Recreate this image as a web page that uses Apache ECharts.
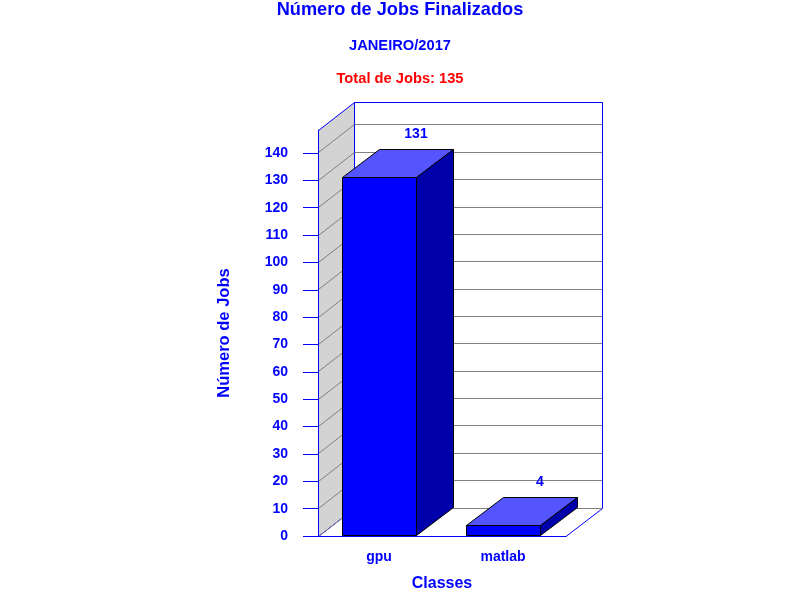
<!DOCTYPE html>
<html>
<head>
<meta charset="utf-8">
<style>html,body{margin:0;padding:0;background:#fff}#c{width:800px;height:600px}</style>
<script src="https://cdn.jsdelivr.net/npm/echarts@6/dist/echarts.min.js"></script>
</head>
<body>
<div id="c"></div>
<script>
const categories = ['gpu', 'matlab'];
const jobs = [131, 4];
const yTicks = [0,10,20,30,40,50,60,70,80,90,100,110,120,130,140];
const yMax = 148.4;
const titleText = 'Número de Jobs Finalizados';
const subtitleText = 'JANEIRO/2017';
const totalText = 'Total de Jobs: 135';

const FONT = 'Liberation Sans';
const BLUE = '#0000ff';
const DX = 37, DY = 28, BARW = 74;
const sn = v => Math.floor(v) + 0.5;

function line(x1, y1, x2, y2, color) {
  return { type: 'line', shape: { x1, y1, x2, y2 }, style: { stroke: color, lineWidth: 1, fill: null } };
}
function poly(points, fill, stroke) {
  return { type: 'polygon', shape: { points }, style: { fill, stroke, lineWidth: 1 } };
}

function renderWalls(params, api) {
  const r = params.coordSys;
  const L = r.x, R = r.x + r.width, T = r.y, B = r.y + r.height;
  const bx = L + DX - .5, rx = R + DX - .5, ty = T - DY + .5;
  return { type: 'group', children: [
    poly([[L + .5, sn(B)], [bx, sn(B - DY)], [bx, ty], [L + .5, T + .5]], '#d3d3d3', BLUE),
    line(bx, ty, rx, ty, BLUE),
    line(rx, ty, rx, sn(B - DY), BLUE),
    line(R, sn(B), rx, sn(B - DY), BLUE)
  ]};
}
function renderGrid(params, api) {
  const r = params.coordSys;
  const y = api.coord([0, api.value(0)])[1];
  const L = r.x, R = r.x + r.width;
  return { type: 'group', children: [
    line(L + .5, sn(y), L + DX - .5, sn(y - DY), '#808080'),
    line(L + DX, sn(y - DY), R + DX - 1, sn(y - DY), '#808080')
  ]};
}
function renderBar(params, api) {
  const c = api.coord([api.value(0), api.value(1)]);
  const o = api.coord([api.value(0), 0]);
  const x0 = Math.round(c[0] - BARW / 2) - .5, x1 = x0 + BARW;
  const yT = sn(c[1]), yB = sn(o[1]) - 1;
  return { type: 'group', children: [
    poly([[x0, yB], [x1, yB], [x1, yT], [x0, yT]], BLUE, '#000'),
    poly([[x0, yT], [x1, yT], [x1 + DX, yT - DY], [x0 + DX, yT - DY]], '#5555ff', '#000'),
    poly([[x1, yB], [x1 + DX, yB - DY], [x1 + DX, yT - DY], [x1, yT]], '#0000aa', '#000'),
    { type: 'text', style: {
      text: String(api.value(1)), x: c[0] + DX - 1, y: yT - DY - 15,
      fill: BLUE, font: 'bold 14px "' + FONT + '"', align: 'center', verticalAlign: 'middle'
    }}
  ]};
}

const chart = echarts.init(document.getElementById('c'), null, { renderer: 'canvas' });
chart.setOption({
  animation: false,
  backgroundColor: '#fff',
  title: [
    { text: titleText, left: 400, top: 1, padding: 0, textAlign: 'center', textStyle: { color: BLUE, fontFamily: FONT, fontWeight: 'bold', fontSize: 18.2 } },
    { text: subtitleText, left: 400, top: 38, padding: 0, textAlign: 'center', textStyle: { color: BLUE, fontFamily: FONT, fontWeight: 'bold', fontSize: 14.7 } },
    { text: totalText, left: 400, top: 71, padding: 0, textAlign: 'center', textStyle: { color: '#ff0000', fontFamily: FONT, fontWeight: 'bold', fontSize: 14.7 } }
  ],
  grid: { left: 318, right: 234, top: 130, bottom: 64, outerBoundsMode: 'none' },
  xAxis: {
    type: 'category', data: categories, z: 5,
    axisLine: { show: true, lineStyle: { color: BLUE, width: 1 } },
    axisTick: { show: false },
    axisLabel: { color: BLUE, fontFamily: FONT, fontWeight: 'bold', fontSize: 14, margin: 14, interval: 0, padding: [0, 2, 0, 0] },
    name: 'Classes', nameLocation: 'middle', nameGap: 40,
    nameTextStyle: { color: BLUE, fontFamily: FONT, fontWeight: 'bold', fontSize: 16 },
    splitLine: { show: false }
  },
  yAxis: {
    type: 'value', min: 0, max: yMax, z: 5,
    axisLine: { show: true, lineStyle: { color: BLUE, width: 1 } },
    axisTick: { show: true, length: 15, customValues: yTicks, lineStyle: { color: BLUE, width: 1 } },
    axisLabel: { color: BLUE, fontFamily: FONT, fontWeight: 'bold', fontSize: 14, margin: 30, customValues: yTicks },
    splitLine: { show: false },
    name: 'Número de Jobs', nameLocation: 'middle', nameGap: 85, nameRotate: 90,
    nameTextStyle: { color: BLUE, fontFamily: FONT, fontWeight: 'bold', fontSize: 16.5 }
  },
  series: [
    { type: 'custom', name: 'walls', clip: false, z: 1, silent: true, coordinateSystem: 'cartesian2d', renderItem: renderWalls, data: [[0, 0]] },
    { type: 'custom', name: 'grid', clip: false, z: 2, silent: true, coordinateSystem: 'cartesian2d', renderItem: renderGrid, encode: { y: 0 }, data: yTicks.map(v => [v]) },
    { type: 'custom', name: 'Jobs', clip: false, z: 3, silent: true, coordinateSystem: 'cartesian2d', renderItem: renderBar, encode: { x: 0, y: 1 }, data: jobs.map((v, i) => [i, v]) }
  ]
});
</script>
</body>
</html>
